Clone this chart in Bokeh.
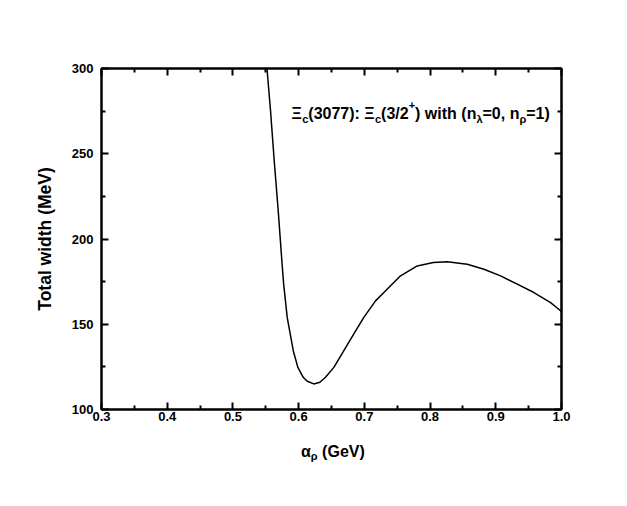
from bokeh.plotting import figure
from bokeh.models import Range1d, LinearAxis, FixedTicker, Label, CustomJSTickFormatter, Div
from bokeh.layouts import column
from bokeh.embed import file_html
from bokeh.resources import INLINE

# Data
alpha_rho = [0.5518, 0.5572, 0.5628, 0.5689, 0.5744, 0.5772, 0.5826, 0.5918,
             0.5988, 0.6070, 0.6131, 0.6231, 0.6323, 0.6409, 0.6536, 0.6688,
             0.6840, 0.6992, 0.7170, 0.7297, 0.7551, 0.7805, 0.8050, 0.8262,
             0.8566, 0.8819, 0.9073, 0.9327, 0.9580, 0.9834, 1.0]
total_width = [300.0, 275.4, 246.0, 216.7, 187.4, 173.5, 154.0, 134.5,
               124.7, 118.9, 116.6, 115.0, 116.0, 118.9, 124.7, 134.5,
               144.3, 154.0, 163.7, 168.6, 178.4, 184.2, 186.2, 186.7,
               185.2, 182.3, 178.4, 173.5, 168.6, 162.7, 157.5]

x_ticks = [0.3, 0.4, 0.5, 0.6, 0.7, 0.8, 0.9, 1.0]
x_minor = [0.35, 0.45, 0.55, 0.65, 0.75, 0.85, 0.95]
y_ticks = [100, 150, 200, 250, 300]
y_minor = [125, 175, 225, 275]
x_tick_labels = {0.3: "0.3", 0.4: "0.4", 0.5: "0.5", 0.6: "0.6", 0.7: "0.7",
                 0.8: "0.8", 0.9: "0.9", 1.0: "1.0"}

FONT = "Liberation Sans"

p = figure(width=610, height=434, output_backend="svg", toolbar_location=None,
           x_range=Range1d(0.3, 1.0), y_range=Range1d(100, 300),
           min_border_left=101, min_border_top=68, min_border_right=49, min_border_bottom=25,
           x_axis_label=None, y_axis_label="Total width (MeV)")
p.grid.visible = False
p.outline_line_color = "black"
p.outline_line_width = 2
p.background_fill_color = "white"
p.border_fill_color = "white"

p.line(alpha_rho, total_width, line_color="black", line_width=1.5, line_join="round")

def style_axis(ax, ticks, minor, labels=True):
    ax.ticker = FixedTicker(ticks=ticks, minor_ticks=minor)
    ax.axis_line_color = "black"
    ax.axis_line_width = 2
    ax.major_tick_in = 7
    ax.major_tick_out = 0
    ax.minor_tick_in = 4
    ax.minor_tick_out = 0
    ax.major_tick_line_width = 2
    ax.minor_tick_line_width = 2
    ax.major_tick_line_color = "black"
    ax.minor_tick_line_color = "black"
    ax.major_label_text_font = FONT
    ax.major_label_text_font_style = "bold"
    ax.major_label_text_font_size = "13px"
    ax.major_label_text_color = "black"
    if not labels:
        ax.formatter = CustomJSTickFormatter(code="return ''")

xb = p.xaxis[0]
style_axis(xb, x_ticks, x_minor)
xb.major_label_overrides = x_tick_labels
xb.major_label_standoff = 2
yl = p.yaxis[0]
style_axis(yl, y_ticks, y_minor)
yl.major_label_standoff = 8
yl.axis_label_text_font = FONT
yl.axis_label_text_font_style = "bold"
yl.axis_label_text_font_size = "17.5px"
yl.axis_label_standoff = 14
yl.axis_label_text_color = "black"

top = LinearAxis()
style_axis(top, x_ticks, x_minor, labels=False)
p.add_layout(top, "above")
right = LinearAxis()
style_axis(right, y_ticks, y_minor, labels=False)
p.add_layout(right, "right")

def lab(x, y, t, size):
    p.add_layout(Label(x=x, y=y, text=t, text_font=FONT, text_font_style="bold",
                       text_font_size=size, text_color="black", text_baseline="alphabetic"))

# legend-like annotation
MAIN, SUB = "16px", "11px"
yb, ys, yp = 273.4, 270.5, 278.7
lab(0.5892, yb, "\u039E", MAIN)
lab(0.6054, ys, "c", SUB)
lab(0.6147, yb, "(3077): \u039E", MAIN)
lab(0.7162, ys, "c", SUB)
lab(0.7255, yb, "(3/2", MAIN)
lab(0.7675, yp, "+", SUB)
lab(0.7772, yb, ") with (n", MAIN)
lab(0.8705, ys, "\u03BB", SUB)
lab(0.8798, yb, "=0, n", MAIN)
lab(0.9360, ys, "\u03C1", SUB)
lab(0.9462, yb, "=1)", MAIN)

# x axis title with subscript
xtitle = Div(
    text=('<div style="font-family:\'Liberation Sans\';font-weight:bold;font-size:16px;'
          'line-height:20px;white-space:nowrap;padding-left:301px;padding-top:8px;color:black">'
          '\u03B1<sub style="font-size:11px;line-height:0;vertical-align:-3px">\u03C1</sub> (GeV)</div>'),
    width=610, height=50, margin=(0, 0, 0, 0))

layout = column(p, xtitle, spacing=0)
open("out.html", "w").write(file_html(layout, INLINE))
